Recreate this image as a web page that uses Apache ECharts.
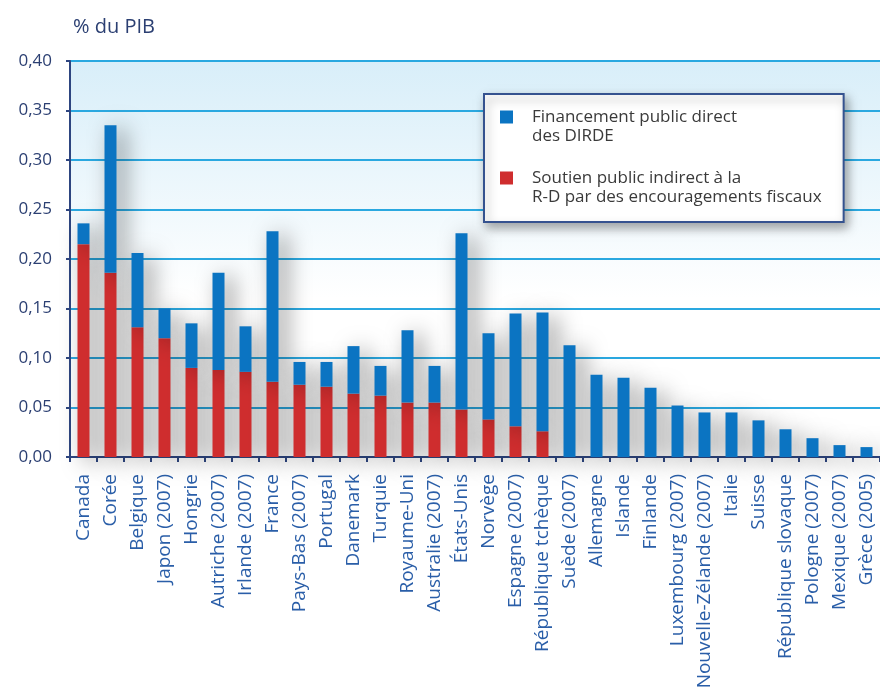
<!DOCTYPE html>
<html>
<head>
<meta charset="utf-8">
<script src="https://cdn.jsdelivr.net/npm/echarts@6/dist/echarts.min.js"></script>
<style>
html,body{margin:0;padding:0;background:#fff;}
#chart{width:880px;height:694px;}
</style>
</head>
<body>
<div id="chart"></div>
<script>
const categories = ["Canada","Corée","Belgique","Japon (2007)","Hongrie","Autriche (2007)","Irlande (2007)","France","Pays-Bas (2007)","Portugal","Danemark","Turquie","Royaume-Uni","Australie (2007)","États-Unis","Norvège","Espagne (2007)","République tchèque","Suède (2007)","Allemagne","Islande","Finlande","Luxembourg (2007)","Nouvelle-Zélande (2007)","Italie","Suisse","République slovaque","Pologne (2007)","Mexique (2007)","Grèce (2005)"];
const indirectSupport = [0.215,0.186,0.131,0.120,0.090,0.088,0.086,0.076,0.073,0.071,0.064,0.062,0.055,0.055,0.048,0.038,0.031,0.026,0,0,0,0,0,0,0,0,0,0,0,0];
const directFunding = [0.021,0.149,0.075,0.030,0.045,0.098,0.046,0.152,0.023,0.025,0.048,0.030,0.073,0.037,0.178,0.087,0.114,0.120,0.113,0.083,0.080,0.070,0.052,0.045,0.045,0.037,0.028,0.019,0.012,0.010];
const yTicks = [0,0.05,0.10,0.15,0.20,0.25,0.30,0.35,0.40];
const nameDirect = "Financement public direct des DIRDE";
const nameIndirect = "Soutien public indirect à la R-D par des encouragements fiscaux";
const legendText = {};
legendText[nameDirect] = "Financement public direct\ndes DIRDE";
legendText[nameIndirect] = "Soutien public indirect à la\nR-D par des encouragements fiscaux";

const navy = "#2d4580";
const FONT = "Open Sans";
const chart = echarts.init(document.getElementById('chart'), null, {renderer:'canvas'});
const barShadow = {shadowColor:'rgba(0,0,0,0.45)', shadowBlur:22, shadowOffsetX:8, shadowOffsetY:4};
chart.setOption({
  animation:false,
  backgroundColor:'#ffffff',
  textStyle:{fontFamily:FONT},
  title:{
    text:'% du PIB', left:73, top:17, padding:0,
    textStyle:{fontFamily:FONT, fontSize:20, fontWeight:'normal', color:'#2b3f72'}
  },
  grid:{
    left:70, right:0, top:61, bottom:237, show:true, borderWidth:0,
    backgroundColor:{type:'linear', x:0, y:0, x2:0, y2:1, colorStops:[
      {offset:0, color:'#d8eef9'}, {offset:0.6, color:'#ffffff'}, {offset:1, color:'#ffffff'}]}
  },
  legend:{
    data:[nameDirect, nameIndirect],
    orient:'vertical', left:484, top:94,
    padding:[13.5,22,15.5,16],
    itemGap:23,
    itemWidth:27, itemHeight:32,
    icon:'path://M0,0L13,0L13,13L0,13Z M27,32L27,32',
    backgroundColor:'#ffffff', borderColor:'#35528f', borderWidth:2,
    shadowColor:'rgba(0,0,0,0.35)', shadowBlur:10, shadowOffsetX:3, shadowOffsetY:5,
    formatter:function(n){return legendText[n];},
    textStyle:{fontFamily:FONT, fontSize:17, lineHeight:19, color:'#3a3a3a'}
  },
  xAxis:{
    type:'category', data:categories,
    axisLine:{lineStyle:{color:navy, width:2}},
    axisTick:{show:true, length:5, lineStyle:{color:navy, width:2}},
    axisLabel:{rotate:90, interval:0, margin:17, fontFamily:FONT, fontSize:19, color:'#2a5ea8'},
    splitLine:{show:false}
  },
  yAxis:{
    type:'value', min:0, max:0.4, interval:0.05,
    axisLine:{show:true, lineStyle:{color:navy, width:2}},
    axisTick:{show:true, length:4, lineStyle:{color:navy, width:2}},
    axisLabel:{margin:18, fontFamily:FONT, fontSize:17, color:'#2b3f72',
      formatter:function(v){return v.toFixed(2).replace('.',',');}},
    splitLine:{lineStyle:{color:'#2aa8e0', width:2}}
  },
  series:[
    {name:nameIndirect, type:'bar', stack:'tot', barWidth:12, data:indirectSupport,
     itemStyle:Object.assign({color:'#cf2d2e'}, barShadow)},
    {name:nameDirect, type:'bar', stack:'tot', barWidth:12, data:directFunding,
     itemStyle:Object.assign({color:'#0b74c2'}, barShadow)}
  ]
});
</script>
</body>
</html>
